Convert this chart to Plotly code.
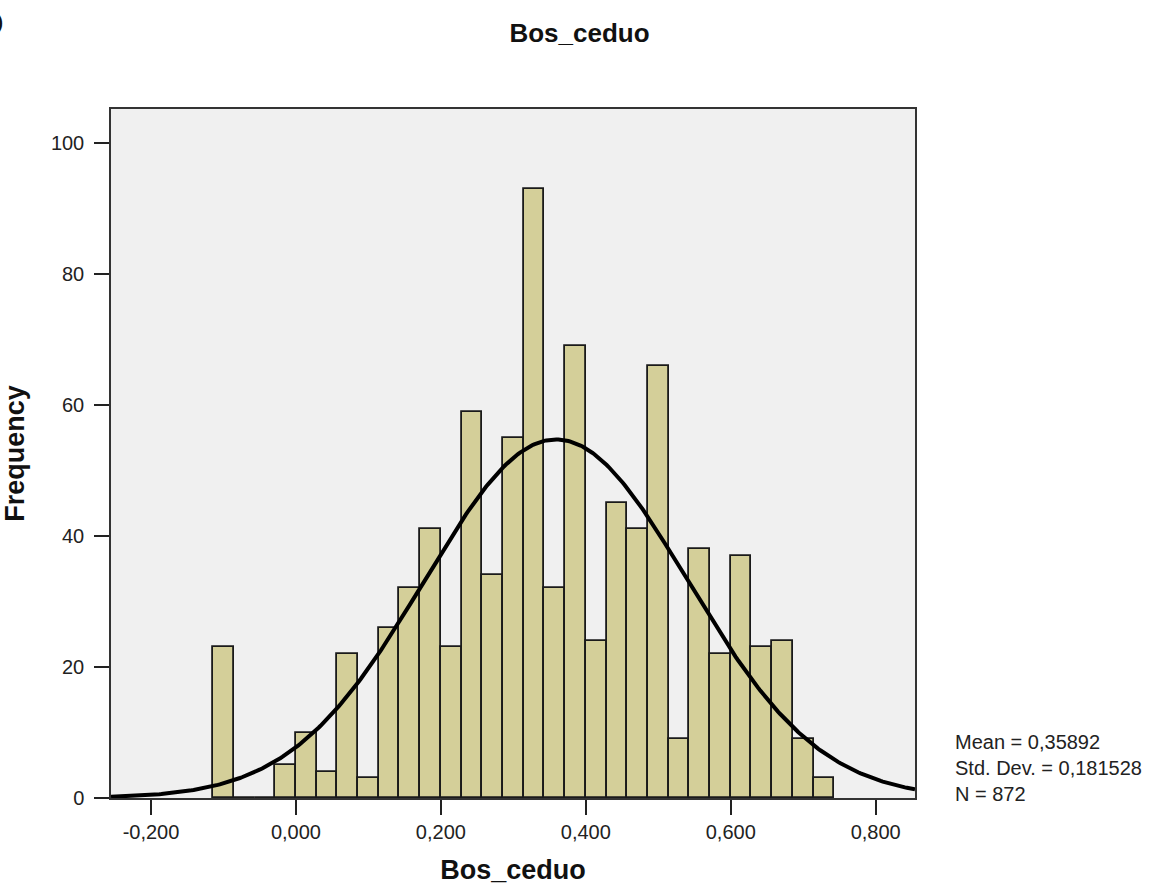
import numpy as np
import plotly.graph_objects as go

# ---- data ----
counts = [23, 0, 0, 5, 10, 4, 22, 3, 26, 32, 41, 23, 59, 34, 55, 93,
          32, 69, 24, 45, 41, 66, 9, 38, 22, 37, 23, 24, 9, 3]
bin_start = -0.1143
bin_width = 0.02857
mean_val = 0.35892
std_val = 0.181528
n_val = 872
x_tick_vals = [-0.2, 0.0, 0.2, 0.4, 0.6, 0.8]
y_tick_vals = [0, 20, 40, 60, 80, 100]
x_range = [-0.2552, 0.8542]
y_range = [0, 105.2]

centers = [bin_start + bin_width * (i + 0.5) for i in range(len(counts))]
x_tick_text = [f"{v:.3f}".replace(".", ",") for v in x_tick_vals]

xs = np.linspace(x_range[0], x_range[1], 400)
ys = n_val * bin_width / (std_val * np.sqrt(2 * np.pi)) * np.exp(-0.5 * ((xs - mean_val) / std_val) ** 2)

FONT = "Liberation Sans, Arial, sans-serif"

fig = go.Figure()
fig.add_trace(go.Bar(
    x=centers, y=counts, width=bin_width,
    marker=dict(color="#D4CF99", line=dict(color="#1a1a1a", width=1.8)),
    showlegend=False, hoverinfo="x+y",
))
fig.add_trace(go.Scatter(
    x=xs, y=ys, mode="lines",
    line=dict(color="black", width=4),
    showlegend=False, hoverinfo="skip",
))

fig.update_layout(
    width=1159, height=892,
    margin=dict(l=111, r=244, t=109, b=90),
    paper_bgcolor="white",
    plot_bgcolor="#F0F0F0",
    separators=", ",
    font=dict(family=FONT, color="#222"),
    title=dict(text="<b>Bos_ceduo</b>", x=0.5, xanchor="center",
               y=1 - 33 / 892, yanchor="middle",
               font=dict(size=26, family=FONT, color="#111")),
    bargap=0,
)
fig.update_xaxes(
    range=x_range, tickvals=x_tick_vals, ticktext=x_tick_text,
    ticks="outside", ticklen=15, tickwidth=1.5, tickcolor="#222",
    tickfont=dict(size=20, color="#222"),
    showline=True, linecolor="#333", linewidth=1.5, mirror=True,
    showgrid=False, zeroline=False,
    title=dict(text="<b>Bos_ceduo</b>", font=dict(size=27, color="#111"), standoff=18),
)
fig.update_yaxes(
    range=y_range, tickvals=y_tick_vals,
    ticks="outside", ticklen=15, tickwidth=1.5, tickcolor="#222",
    tickfont=dict(size=20, color="#222"), ticklabelstandoff=6,
    showline=True, linecolor="#333", linewidth=1.5, mirror=True,
    showgrid=False, zeroline=False,
    title=dict(text="<b>Frequency</b>", font=dict(size=27, color="#111"), standoff=18),
)

stats_text = ("Mean = %s<br>Std. Dev. = %s<br>N = %d"
              % (f"{mean_val:.5f}".replace(".", ","),
                 f"{std_val:.6f}".replace(".", ","), n_val))
fig.add_annotation(
    text=stats_text, xref="paper", yref="paper",
    x=(953 - 111) / 804, y=(802 - 733) / 693,
    xanchor="left", yanchor="top", align="left", showarrow=False,
    font=dict(size=20, family=FONT, color="#222"),
)
fig.add_annotation(
    text="<b>)</b>", xref="paper", yref="paper",
    x=(5 - 111) / 804, y=(802 - 21) / 693,
    xanchor="right", yanchor="middle", showarrow=False,
    font=dict(size=18, family=FONT, color="#111"),
)

fig.write_html("out.html")
